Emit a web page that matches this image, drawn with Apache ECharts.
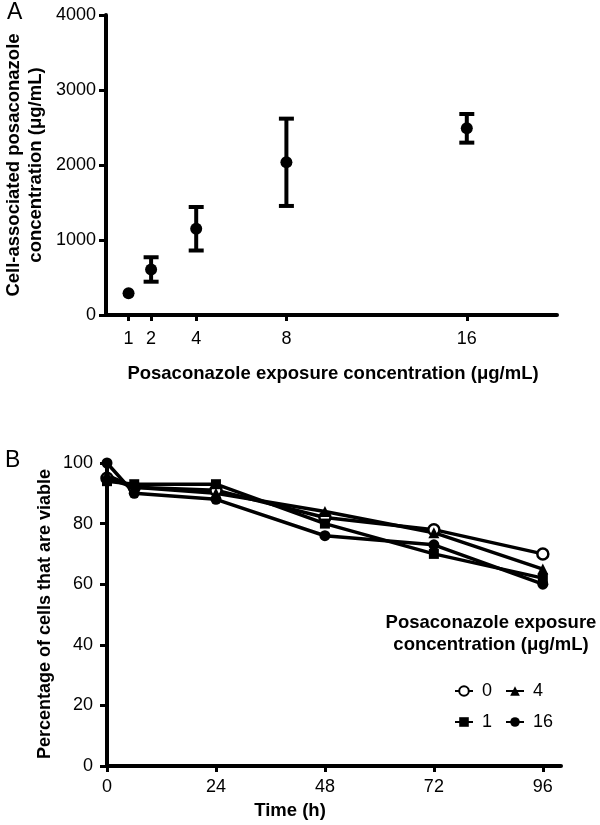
<!DOCTYPE html>
<html>
<head>
<meta charset="utf-8">
<script src="https://cdn.jsdelivr.net/npm/echarts@6/dist/echarts.min.js"></script>
<style>
html,body{margin:0;padding:0;background:#fff;}
#chart{width:600px;height:825px;}
</style>
</head>
<body>
<div id="chart"></div>
<script>
// Panel A data
var concA = [1, 2, 4, 8, 16];
var meanA = [290, 607, 1150, 2036, 2489];
var errA = [0, 163, 290, 582, 191];
var tickA = [1, 2, 4, 8, 16];

// Panel B data
var timeB = [0, 6, 24, 48, 72, 96];
var tickB = [0, 24, 48, 72, 96];
var viable0 = [95, 92, 91, 82, 78, 70];
var viable1 = [94, 93, 93, 80, 70, 62];
var viable4 = [96, 92, 90, 84, 77, 65];
var viable16 = [100, 90, 88, 76, 73, 60];

var FONT = 'Liberation Sans, Arial, sans-serif';
var chart = echarts.init(document.getElementById('chart'), null, {renderer: 'canvas'});

function pairs(xs, ys) { return xs.map(function (x, i) { return [x, ys[i]]; }); }
function plain(v) { return String(v); }

var axisLineStyle = {color: '#000', width: 4};
var tickStyle = {color: '#000', width: 3};
var labelStyle = {color: '#000', fontSize: 18, fontFamily: FONT, formatter: plain};

var lineSeries = function (name, data, symbol, size, fill) {
  return {
    name: name, type: 'line', xAxisIndex: 1, yAxisIndex: 1,
    data: pairs(timeB, data),
    symbol: symbol, symbolSize: size,
    showAllSymbol: true,
    lineStyle: {color: '#000', width: 3.5},
    itemStyle: {color: fill, borderColor: '#000', borderWidth: fill === '#fff' ? 2.5 : 0, opacity: 1},
    emphasis: {disabled: true},
    animation: false
  };
};

var option = {
  backgroundColor: '#fff',
  animation: false,
  grid: [
    {left: 106, top: 15, width: 451, height: 300, outerBoundsMode: 'none'},
    {left: 107, top: 463, width: 454, height: 303, outerBoundsMode: 'none'}
  ],
  xAxis: [
    {
      type: 'value', gridIndex: 0, min: 0, max: 20,
      axisLine: {lineStyle: axisLineStyle},
      axisTick: {show: true, customValues: tickA, length: 6, lineStyle: tickStyle},
      axisLabel: Object.assign({customValues: tickA, margin: 15}, labelStyle),
      splitLine: {show: false}
    },
    {
      type: 'value', gridIndex: 1, min: 0, max: 100,
      axisLine: {lineStyle: axisLineStyle},
      axisTick: {show: true, customValues: tickB, length: 6, lineStyle: tickStyle},
      axisLabel: Object.assign({customValues: tickB, margin: 12}, labelStyle),
      splitLine: {show: false}
    }
  ],
  yAxis: [
    {
      type: 'value', gridIndex: 0, min: 0, max: 4000, interval: 1000,
      axisLine: {show: true, lineStyle: axisLineStyle},
      axisTick: {show: true, length: 7, lineStyle: tickStyle},
      axisLabel: Object.assign({margin: 10}, labelStyle),
      splitLine: {show: false}
    },
    {
      type: 'value', gridIndex: 1, min: 0, max: 100, interval: 20,
      axisLine: {show: true, lineStyle: axisLineStyle},
      axisTick: {show: true, length: 7, lineStyle: tickStyle},
      axisLabel: Object.assign({margin: 14}, labelStyle),
      splitLine: {show: false}
    }
  ],
  legend: [
    {
      left: 449, top: 677, orient: 'vertical', itemGap: 13,
      itemWidth: 18, itemHeight: 12,
      data: ['0', '1'],
      textStyle: {color: '#000', fontSize: 18, fontFamily: FONT, padding: [0, 0, 0, 4]},
      selectedMode: false
    },
    {
      left: 500, top: 677, orient: 'vertical', itemGap: 13,
      itemWidth: 18, itemHeight: 12,
      data: ['4', '16'],
      textStyle: {color: '#000', fontSize: 18, fontFamily: FONT, padding: [0, 0, 0, 4]},
      selectedMode: false
    }
  ],
  graphic: [
    {type: 'text', left: 7, top: 1, style: {text: 'A', font: '23px ' + FONT, fill: '#000'}},
    {type: 'text', left: 5, top: 449, style: {text: 'B', font: '23px ' + FONT, fill: '#000'}},
    {type: 'text', x: 25, y: 165, rotation: Math.PI / 2,
      style: {text: 'Cell-associated posaconazole\nconcentration (μg/mL)', font: 'bold 18.5px ' + FONT,
        fill: '#000', align: 'center', verticalAlign: 'middle', lineHeight: 22}},
    {type: 'text', x: 333, y: 374,
      style: {text: 'Posaconazole exposure concentration (μg/mL)', font: 'bold 18.5px ' + FONT,
        fill: '#000', align: 'center', verticalAlign: 'middle'}},
    {type: 'text', x: 45, y: 614, rotation: Math.PI / 2,
      style: {text: 'Percentage of cells that are viable', font: 'bold 18px ' + FONT,
        fill: '#000', align: 'center', verticalAlign: 'middle'}},
    {type: 'text', x: 290, y: 811,
      style: {text: 'Time (h)', font: 'bold 18.5px ' + FONT,
        fill: '#000', align: 'center', verticalAlign: 'middle'}},
    {type: 'text', x: 491, y: 634,
      style: {text: 'Posaconazole exposure\nconcentration (μg/mL)', font: 'bold 18.5px ' + FONT,
        fill: '#000', align: 'center', verticalAlign: 'middle', lineHeight: 22}}
  ],
  series: [
    {
      name: 'errA', type: 'custom', xAxisIndex: 0, yAxisIndex: 0,
      data: concA.map(function (c, i) { return [c, meanA[i] - errA[i], meanA[i] + errA[i]]; }),
      renderItem: function (params, api) {
        var x = api.value(0);
        if (api.value(1) === api.value(2)) { return null; }
        var lo = api.coord([x, api.value(1)]);
        var hi = api.coord([x, api.value(2)]);
        var hw = 7.5;
        var st = {stroke: '#000', lineWidth: 4};
        return {
          type: 'group',
          children: [
            {type: 'line', shape: {x1: lo[0], y1: lo[1], x2: hi[0], y2: hi[1]}, style: st},
            {type: 'line', shape: {x1: lo[0] - hw, y1: lo[1], x2: lo[0] + hw, y2: lo[1]}, style: st},
            {type: 'line', shape: {x1: hi[0] - hw, y1: hi[1], x2: hi[0] + hw, y2: hi[1]}, style: st}
          ]
        };
      },
      z: 2
    },
    {
      name: 'meanA', type: 'scatter', xAxisIndex: 0, yAxisIndex: 0,
      data: pairs(concA, meanA),
      symbol: 'circle', symbolSize: 12,
      itemStyle: {color: '#000', opacity: 1}, z: 3
    },
    lineSeries('0', viable0, 'circle', 11, '#fff'),
    lineSeries('1', viable1, 'rect', 10, '#000'),
    lineSeries('4', viable4, 'triangle', 11, '#000'),
    lineSeries('16', viable16, 'circle', 11, '#000')
  ]
};
chart.setOption(option);
</script>
</body>
</html>
